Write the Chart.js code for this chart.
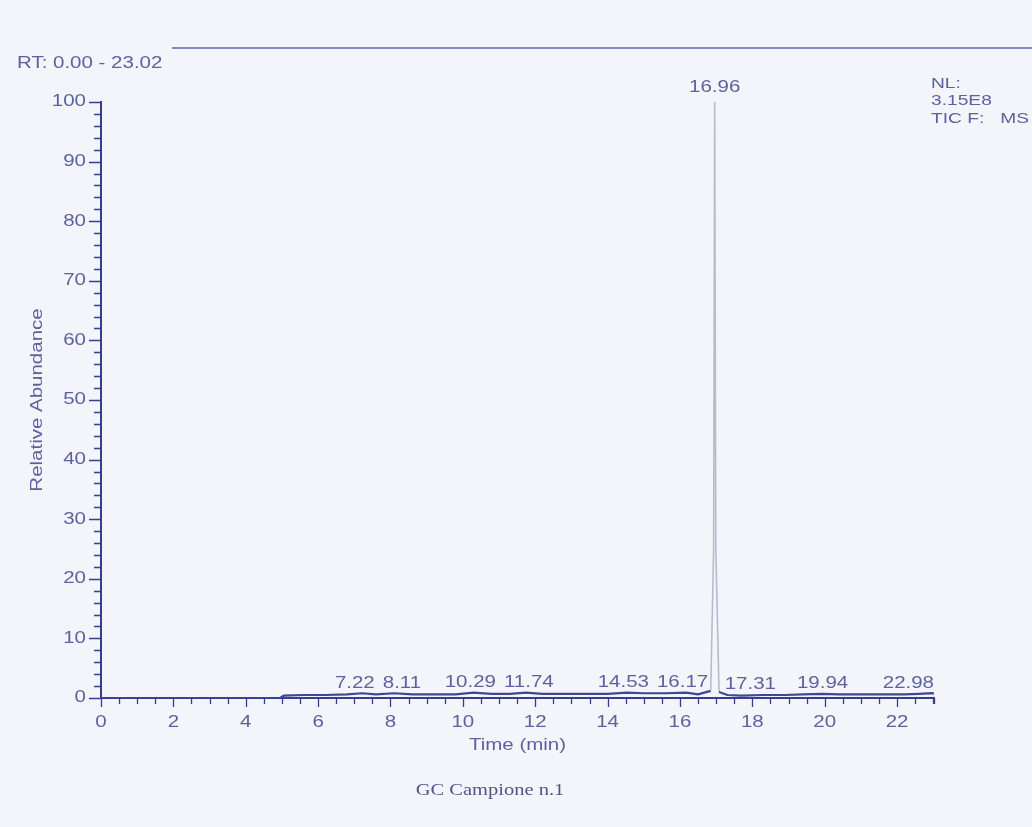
<!DOCTYPE html>
<html>
<head>
<meta charset="utf-8">
<script src="https://cdn.jsdelivr.net/npm/chart.js@4.4.1/dist/chart.umd.min.js"></script>
<style>
  body { margin: 0; background: #f4f5fa; }
  #wrap { width: 1032px; height: 827px; position: relative; }
</style>
</head>
<body>
<div id="wrap"><canvas id="chart" width="1032" height="827"></canvas></div>
<script>
// retention time (min) and relative abundance (%)
const times = [0, 4.95, 5.05, 5.6, 6.2, 6.8, 7.22, 7.6, 8.11, 8.6, 9.2, 9.8, 10.29, 10.8, 11.3, 11.74,
  12.2, 12.8, 13.4, 14.0, 14.53, 15.0, 15.6, 16.17, 16.5, 16.85, 16.93, 16.96, 16.99, 17.08, 17.31,
  17.7, 18.3, 18.9, 19.4, 19.94, 20.4, 21.0, 21.6, 22.2, 22.6, 22.98, 23.02];
const abundance = [0, 0, 0.4, 0.5, 0.5, 0.6, 0.8, 0.6, 0.8, 0.6, 0.6, 0.6, 0.9, 0.7, 0.7, 0.9,
  0.7, 0.7, 0.7, 0.7, 0.9, 0.8, 0.8, 0.9, 0.6, 1.2, 25, 100, 25, 1.0, 0.5,
  0.4, 0.5, 0.5, 0.6, 0.7, 0.6, 0.6, 0.6, 0.6, 0.7, 0.8, 0.7];
// labelled peaks
const peakTimes = [7.22, 8.11, 10.29, 11.74, 14.53, 16.17, 16.96, 17.31, 19.94, 22.98];
const yTicks = [0, 10, 20, 30, 40, 50, 60, 70, 80, 90, 100];
const xTicks = [0, 2, 4, 6, 8, 10, 12, 14, 16, 18, 20, 22];
const rtRange = [0.00, 23.02];

const textColor = '#5d629e';
const axisColor = '#34408f';
const sansFont = '"Liberation Sans", Arial, sans-serif';
const STRETCH = 1.28; // scanned text is wider than it is tall

const pts = times.map((t, i) => ({ x: t, y: abundance[i] }));

function wideText(ctx, txt, x, y, align, font, rot) {
  ctx.save();
  ctx.font = font;
  ctx.textAlign = align;
  ctx.translate(x, y);
  if (rot) ctx.rotate(rot);
  ctx.scale(STRETCH, 1);
  ctx.fillText(txt, 0, 0);
  ctx.restore();
}

// ticks, tick labels, header texts, peak labels, titles
const decor = {
  id: 'decor',
  afterDraw(chart) {
    const ctx = chart.ctx;
    const area = chart.chartArea;
    const xs = chart.scales.x, ys = chart.scales.y;
    const f16 = '16px ' + sansFont;
    ctx.save();

    // top rule
    ctx.strokeStyle = '#5a63b0';
    ctx.lineWidth = 1.5;
    ctx.beginPath();
    ctx.moveTo(172, 48);
    ctx.lineTo(1032, 48);
    ctx.stroke();

    // tick marks
    ctx.strokeStyle = axisColor;
    ctx.lineWidth = 1.3;
    ctx.beginPath();
    for (let v = 0; v <= 100; v += 2) {
      const y = Math.round(ys.getPixelForValue(v)) + 0.5;
      const len = yTicks.includes(v) ? 12 : 7;
      ctx.moveTo(area.left, y);
      ctx.lineTo(area.left - len, y);
    }
    const xt = [];
    for (let v = 0; v <= 23; v += 0.5) xt.push(v);
    xt.push(rtRange[1]);
    xt.forEach(v => {
      const x = Math.round(xs.getPixelForValue(v)) + 0.5;
      const len = xTicks.includes(v) ? 9 : 6;
      ctx.moveTo(x, area.bottom);
      ctx.lineTo(x, area.bottom + len);
    });
    ctx.stroke();

    ctx.fillStyle = textColor;
    ctx.textBaseline = 'middle';
    yTicks.forEach(v => wideText(ctx, String(v), area.left - 15, ys.getPixelForValue(v), 'right', f16));
    xTicks.forEach(v => wideText(ctx, String(v), xs.getPixelForValue(v), 723, 'center', f16));

    wideText(ctx, 'RT: ' + rtRange[0].toFixed(2) + ' - ' + rtRange[1].toFixed(2), 17, 64, 'left', f16);
    const f15 = '15px ' + sansFont;
    wideText(ctx, 'NL:', 931, 84, 'left', f15);
    wideText(ctx, '3.15E8', 931, 101, 'left', f15);
    wideText(ctx, 'TIC F:   MS', 931, 119, 'left', f15);

    // peak labels
    ctx.font = f16;
    ctx.textBaseline = 'bottom';
    const maxT = peakTimes.reduce((a, t) => abundance[times.indexOf(t)] > abundance[times.indexOf(a)] ? t : a, peakTimes[0]);
    const mainX = xs.getPixelForValue(maxT);
    const labs = peakTimes.filter(t => t !== maxT).map(t => {
      const txt = t.toFixed(2);
      const w = ctx.measureText(txt).width * STRETCH;
      let cx = xs.getPixelForValue(t);
      if (cx - w / 2 < mainX + 6 && cx + w / 2 > mainX - 6) {
        cx = cx >= mainX ? mainX + 10 + w / 2 : mainX - 10 - w / 2;
      }
      return { t, txt, w, cx, y: ys.getPixelForValue(abundance[times.indexOf(t)]) - 2 };
    });
    // spread overlapping neighbours apart
    for (let i = 1; i < labs.length; i++) {
      const a = labs[i - 1], b = labs[i];
      const over = (a.cx + a.w / 2 + 8) - (b.cx - b.w / 2);
      if (over > 0) { a.cx -= over / 2; b.cx += over / 2; }
    }
    labs.forEach(l => {
      if (l.cx + l.w / 2 > area.right) l.cx = area.right - l.w / 2;
      wideText(ctx, l.txt, l.cx, l.y, 'center', f16);
    });
    wideText(ctx, maxT.toFixed(2), mainX, ys.getPixelForValue(100) - 6, 'center', f16);

    // axis titles
    ctx.textBaseline = 'middle';
    wideText(ctx, 'Time (min)', (area.left + area.right) / 2, 746, 'center', f16);
    wideText(ctx, 'Relative Abundance', 38, (area.top + area.bottom) / 2, 'center', f16, -Math.PI / 2);

    ctx.fillStyle = '#4f548e';
    wideText(ctx, 'GC Campione n.1', 490, 791, 'center', '16px "Liberation Serif", "Times New Roman", serif');
    ctx.restore();
  }
};

new Chart(document.getElementById('chart'), {
  type: 'line',
  data: {
    datasets: [{
      data: pts,
      borderColor: '#b8bbcc',
      borderWidth: 1.6,
      segment: {
        borderColor: c => (c.p0.parsed.y < 3 && c.p1.parsed.y < 3) ? '#3d4792' : '#b8bbcc',
        borderWidth: c => (c.p0.parsed.y < 3 && c.p1.parsed.y < 3) ? 2.2 : 1.6
      },
      pointRadius: 0,
      tension: 0,
      fill: false
    }]
  },
  options: {
    responsive: false,
    animation: false,
    layout: { padding: { top: 102, right: 98, left: 0, bottom: 0 } },
    plugins: { legend: { display: false }, tooltip: { enabled: false } },
    scales: {
      x: {
        type: 'linear',
        min: rtRange[0],
        max: rtRange[1],
        afterFit(scale) { scale.height = 129; },
        border: { color: axisColor, width: 2 },
        grid: { display: false },
        ticks: { display: false, stepSize: 0.5 }
      },
      y: {
        min: 0,
        max: 100,
        afterFit(scale) { scale.width = 101; },
        border: { color: axisColor, width: 2 },
        grid: { display: false },
        ticks: { display: false, stepSize: 2 }
      }
    }
  },
  plugins: [decor]
});
</script>
</body>
</html>
